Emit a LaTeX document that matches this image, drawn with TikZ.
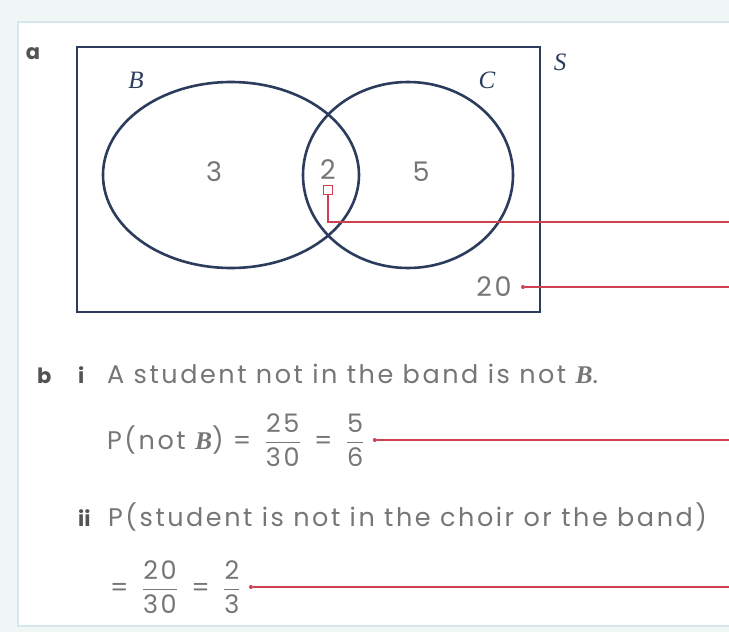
\documentclass[tikz,border=0pt]{standalone}
\usepackage{amsmath}
\usepackage{fontspec}
\setmainfont{Poppins}
\newfontfamily\wideface[LetterSpace=10]{Poppins}
\newfontfamily\letterfont{Liberation Serif}
\usetikzlibrary{shapes.geometric, positioning, calc}
\definecolor{VennNavy}{RGB}{44, 60, 92}
\definecolor{LeaderRed}{RGB}{206, 64, 80}
\definecolor{TextGrey}{RGB}{118, 118, 118}
\definecolor{PanelLine}{RGB}{214, 230, 234}
\definecolor{PageTint}{RGB}{240, 245, 246}
\newcommand{\fr}[2]{\hspace{4pt}$\dfrac{\text{#1}}{\text{#2}}$\hspace{4pt}}

\begin{document}
\begin{tikzpicture}[x=1pt, y=-1pt,
  venn/.style={draw=VennNavy, line width=2.6pt, inner sep=0pt},
  num/.style={text=TextGrey, font=\fontsize{27}{30}\selectfont\wideface},
  setname/.style={text=VennNavy, font=\fontsize{25}{28}\selectfont\letterfont\itshape},
  part/.style={text=TextGrey!70!black, font=\fontsize{21}{28}\selectfont\bfseries},
  line/.style={text=TextGrey, font=\fontsize{25.5}{28}\selectfont\wideface, anchor=base west, inner sep=0pt},
  leader/.style={draw=LeaderRed, line width=1.3pt},
  tip/.style={circle, fill=LeaderRed, inner sep=0pt, minimum size=4pt}]
\useasboundingbox (0,0) rectangle (729,632);
\fill[PageTint] (0,0) rectangle (729,632);
\fill[white] (18,22) rectangle (729,626);
\draw[PanelLine, line width=2pt] (729,22) -- (18,22) -- (18,626) -- (729,626);
% part a: Venn diagram
\node[part] (lbla) at (33,54) {a};
\node[venn, rectangle, minimum width=463pt, minimum height=265pt] (S) at (308.5,179.5) {};
\node[setname] (lblS) at (560,62) {S};
\node[venn, ellipse, minimum width=256pt, minimum height=186pt] (B) at (231,175) {};
\node[venn, ellipse, minimum width=210pt, minimum height=186pt] (C) at (408,175) {};
\node[setname] (lblB) at (136,80) {B};
\node[setname] (lblC) at (487,80) {C};
\node[num] (n3) at (214,172) {3};
\node[num] (n2) at (328,170) {2};
\node[num] (n5) at (421,172) {5};
\node[num] (n20) at (494,287) {20};
\node[draw=LeaderRed, line width=1pt, minimum width=9pt, minimum height=9pt, inner sep=0pt] (box) at (328,190) {};
\coordinate (endA) at (729,222);
\node[tip] (dot20) at (523,287) {};
\coordinate (endB) at (729,287);
\draw[leader] (box.south) |- (endA);
\draw[leader] (dot20) -- (endB);
% part b
\node[part, anchor=base west, inner sep=0pt] (lblb) at (37,383) {b};
\node[part, anchor=base west, inner sep=0pt] (lbli) at (78,383) {i};
\node[line] (ti) at (107,383) {A student not in the band is not {\letterfont\itshape\bfseries B}.};
\node[line, anchor=west] (pi) at (107,440) {P(not {\letterfont\itshape\bfseries B}) = \fr{25}{30} = \fr{5}{6}};
\node[tip, right=8pt of pi] (doti) {};
\coordinate (endi) at (729,440);
\draw[leader] (doti) -- (endi);
\node[part, anchor=base west, inner sep=0pt] (lblii) at (78,526) {ii};
\node[line] (tii) at (108,526) {P(student is not in the choir or the band)};
\node[line, anchor=west] (pii) at (110,587) {= \fr{20}{30} = \fr{2}{3}};
\node[tip, right=8pt of pii] (dotii) {};
\coordinate (endii) at (729,587);
\draw[leader] (dotii) -- (endii);
\end{tikzpicture}
\end{document}
